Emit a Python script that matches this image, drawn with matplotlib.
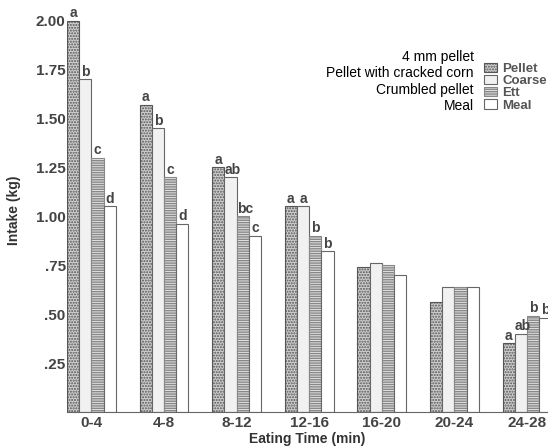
import numpy as np
import matplotlib.pyplot as plt
from matplotlib.patches import Patch

plt.rcParams['font.family'] = ['Liberation Sans', 'DejaVu Sans']

# data
periods = ['0-4', '4-8', '8-12', '12-16', '16-20', '20-24', '24-28']
pellet = [2.00, 1.57, 1.25, 1.05, 0.74, 0.56, 0.35]
coarse = [1.70, 1.45, 1.20, 1.05, 0.76, 0.64, 0.40]
ett = [1.30, 1.20, 1.00, 0.90, 0.75, 0.64, 0.49]
meal = [1.05, 0.96, 0.90, 0.82, 0.70, 0.64, 0.48]

pellet_sig = ['a', 'a', 'a', 'a', '', '', 'a']
coarse_sig = ['b', 'b', 'ab', 'a', '', '', 'ab']
ett_sig = ['c', 'c', 'bc', 'b', '', '', 'b']
meal_sig = ['d', 'd', 'c', 'b', '', '', 'b']

long_names = ['4 mm pellet', 'Pellet with cracked corn', 'Crumbled pellet', 'Meal']
short_names = ['Pellet', 'Coarse', 'Ett', 'Meal']
yticks = [0.25, 0.50, 0.75, 1.00, 1.25, 1.50, 1.75, 2.00]
ytick_labels = ['.25', '.50', '.75', '1.00', '1.25', '1.50', '1.75', '2.00']

series = [pellet, coarse, ett, meal]
sigs = [pellet_sig, coarse_sig, ett_sig, meal_sig]
styles = [
    dict(facecolor='#cfcfcf', edgecolor='#555555', hatch='......'),
    dict(facecolor='#f1f1f1', edgecolor='#666666', hatch=''),
    dict(facecolor='#e2e2e2', edgecolor='#888888', hatch='-------'),
    dict(facecolor='white', edgecolor='#666666', hatch=''),
]

fig = plt.figure(figsize=(5.48, 4.48), dpi=100)
ax = fig.add_axes([0.1223, 0.0804, 0.8777, 0.9])

x = np.arange(len(periods))
w = 0.168
for i, (vals, st, sg) in enumerate(zip(series, styles, sigs)):
    pos = x + (i - 1.5) * w
    ax.bar(pos, vals, width=w, linewidth=0.8, **st)
    for p, v, s in zip(pos, vals, sg):
        if s:
            # two-letter marks sit a little to the right, as in the original
            dx = 0.03 if len(s) > 1 else 0
            ax.text(p + dx, v + 0.003, s, ha='center', va='bottom', fontsize=10,
                    fontweight='bold', color='#444444')

ax.set_xlim(-0.335, 6.29)
ax.set_ylim(0, 2.06)
ax.set_xticks(x)
ax.set_xticklabels(periods, fontsize=11, fontweight='bold', color='#444444')
ax.set_yticks(yticks)
ax.set_yticklabels(ytick_labels, fontsize=11, fontweight='bold', color='#444444')
ax.tick_params(axis='x', length=0, pad=3)
ax.tick_params(axis='y', length=0, pad=1)
for s in ['top', 'right', 'left']:
    ax.spines[s].set_visible(False)
ax.spines['bottom'].set_color('#666666')

ax.set_xlabel('Eating Time (min)', fontsize=10, fontweight='bold', color='#333333', labelpad=1)
ax.set_ylabel('Intake (kg)', fontsize=10, fontweight='bold', color='#333333', labelpad=11)

handles = [Patch(**st, linewidth=0.8) for st in styles]
ax.legend(handles, short_names, loc='upper left', bbox_to_anchor=(477 / 548, 1 - 56 / 448),
          bbox_transform=fig.transFigure, frameon=False, borderpad=0,
          handlelength=1.0, handleheight=0.7, handletextpad=0.4, labelspacing=0.0,
          prop={'weight': 'bold', 'size': 9.5}, labelcolor='#555555')

for k, name in enumerate(long_names):
    fig.text(474 / 548, 1 - (57 + 16.3 * k) / 448, name, ha='right', va='center',
             fontsize=10, color='black')

fig.savefig('out.png', dpi=100)
